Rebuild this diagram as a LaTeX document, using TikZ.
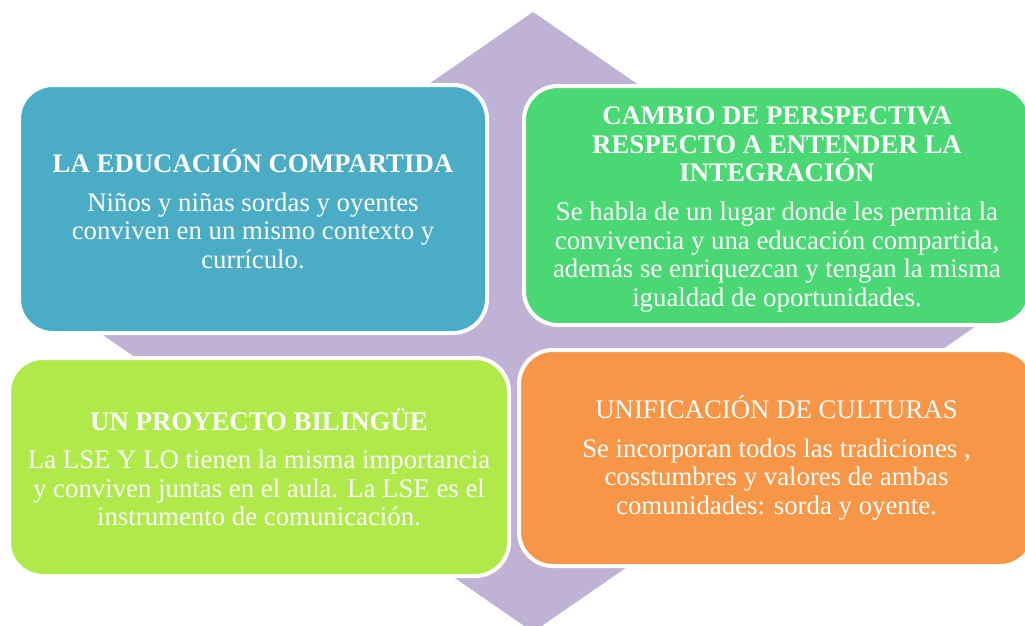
\documentclass[tikz,border=0pt]{standalone}
\usepackage{fontspec}
\setmainfont{Liberation Serif}
\definecolor{diam}{HTML}{C0B2D4}
\definecolor{cblue}{HTML}{4BACC6}
\definecolor{cgreen}{HTML}{4AD874}
\definecolor{clime}{HTML}{AFEA4A}
\definecolor{corange}{HTML}{F79646}
\tikzset{
  card/.style={draw=white, line width=4pt, rounded corners=34pt, inner sep=0pt,
    text=white, align=center, font=\fontsize{26.8}{28.6}\selectfont},
  cardtext/.style={inner sep=0pt, text=white, align=center,
    font=\fontsize{26.8}{28.6}\selectfont},
}
\newcommand{\ttl}[1]{\textbf{#1}}
\begin{document}
\begin{tikzpicture}[x=1pt,y=-1pt]
\useasboundingbox (0,0) rectangle (1025,626);
\clip (0,0) rectangle (1025,626);
\fill[diam] (533,12) -- (982,322) -- (533,632) -- (84,322) -- cycle;
\node[card, fill=cblue, minimum width=468pt, minimum height=248pt] (edu) at (253,209)
  {\ttl{LA EDUCACIÓN COMPARTIDA}\\[10pt]
   Niños y niñas sordas y oyentes\\
   conviven en un mismo contexto y\\
   currículo.};
\node[card, fill=cgreen, minimum width=506pt, minimum height=239pt] (cam) at (777,205.5) {};
\node[cardtext] (camtext) at ([yshift=-4pt]cam.center)
  {\ttl{CAMBIO DE PERSPECTIVA}\\
   \ttl{RESPECTO A ENTENDER LA}\\
   \ttl{INTEGRACIÓN}\\[10pt]
   Se habla de un lugar donde les permita la\\
   convivencia y una educación compartida,\\
   además se enriquezcan y tengan la misma\\
   igualdad de oportunidades.};
\node[card, fill=clime, minimum width=500pt, minimum height=218pt] (pro) at (259,467)
  {\ttl{UN PROYECTO BILINGÜE}\\[10pt]
   La LSE Y LO tienen la misma importancia\\
   y conviven juntas en el aula. La LSE es el\\
   instrumento de comunicación.};
\node[card, fill=corange, minimum width=515pt, minimum height=216pt] (uni) at (776.5,458)
  {UNIFICACIÓN DE CULTURAS\\[10pt]
   Se incorporan todos las tradiciones ,\\
   cosstumbres y valores de ambas\\
   comunidades: sorda y oyente.};
\end{tikzpicture}
\end{document}
